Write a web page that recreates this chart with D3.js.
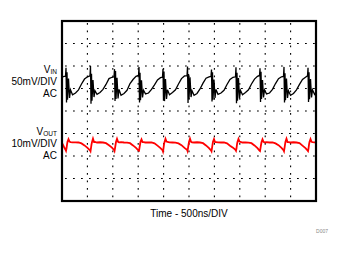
<!DOCTYPE html>
<html>
<head>
<meta charset="utf-8">
<script src="https://cdn.jsdelivr.net/npm/d3@7"></script>
<style>
  body { margin: 0; background: #fff; }
  text { font-family: "Liberation Sans", Arial, sans-serif; }
</style>
</head>
<body>
<svg width="345" height="254"></svg>
<script>
// scope capture, values
const timeNs = [
  0, 40,
  69, 79, 89, 99, 108, 128, 148, 167, 207, 266, 325, 384, 443, 502,
  551, 561, 571, 581, 590, 610, 630, 649, 689, 748, 807, 866, 925, 984,
  1024, 1034, 1044, 1054, 1063, 1083, 1103, 1122, 1162, 1221, 1280, 1339, 1398, 1457,
  1506, 1516, 1526, 1536, 1545, 1565, 1585, 1604, 1644, 1703, 1762, 1821, 1880, 1939,
  1978, 1988, 1998, 2008, 2017, 2037, 2057, 2076, 2116, 2175, 2234, 2293, 2352, 2411,
  2461, 2471, 2481, 2491, 2500, 2520, 2540, 2559, 2599, 2658, 2717, 2776, 2835, 2894,
  2933, 2943, 2953, 2963, 2972, 2992, 3012, 3031, 3071, 3130, 3189, 3248, 3307, 3366,
  3415, 3425, 3435, 3445, 3454, 3474, 3494, 3513, 3553, 3612, 3671, 3730, 3789, 3848,
  3888, 3898, 3908, 3918, 3927, 3947, 3967, 3986, 4026, 4085, 4144, 4203, 4262, 4321,
  4360, 4370, 4380, 4390, 4399, 4419, 4439, 4458, 4498, 4557, 4616, 4675, 4734, 4793,
  4833, 4843, 4853, 4863, 4872, 4892, 4912, 4931, 4971, 5000
];

// VIN, mV (50mV/DIV, AC)
const vinMv = [
  25, 27,
  27, 46, -31, 36, -25, 22, -21, -3, -14, -10, -3, 10, 21, 26,
  28, 50, -34, 33, -27, 19, -19, -5, -13, -9, -2, 9, 22, 25,
  26, 43, -28, 39, -23, 24, -22, -2, -15, -11, -4, 11, 20, 27,
  29, 48, -31, 35, -26, 18, -20, -4, -12, -10, -2, 8, 19, 24,
  25, 44, -27, 38, -28, 21, -23, -3, -14, -9, -3, 10, 22, 28,
  28, 49, -32, 32, -24, 25, -19, -5, -15, -11, -1, 12, 23, 26,
  27, 42, -29, 36, -25, 20, -21, -2, -13, -10, -4, 9, 20, 25,
  26, 47, -33, 35, -27, 23, -22, -4, -14, -9, -3, 10, 21, 27,
  29, 45, -30, 37, -23, 19, -20, -3, -12, -10, -2, 11, 22, 26,
  27, 48, -31, 34, -26, 22, -21, -5, -15, -11, -3, 9, 20, 25,
  28, 46, -30, 36, -24, 21, -20, -3, -13, -8
];

// VOUT, mV (10mV/DIV, AC)
const voutMv = [
  0.8, -1.0,
  -2.2, -2.7, -1.6, 0.1, 1.3, 2.5, 1.4, 1.2, 1.1, 1.1, 1.0, 0.6, -0.3, -1.4,
  -2.5, -2.9, -1.4, 0.2, 1.1, 2.7, 1.2, 1.3, 1.0, 1.1, 1.0, 0.7, -0.2, -1.3,
  -2.3, -2.8, -1.5, 0.0, 1.2, 2.6, 1.3, 1.1, 1.2, 1.0, 0.9, 0.7, -0.3, -1.4,
  -2.6, -2.7, -1.3, 0.1, 1.3, 2.4, 1.2, 1.2, 1.0, 1.0, 1.0, 0.6, -0.4, -1.5,
  -2.4, -3.0, -1.6, 0.2, 1.1, 2.6, 1.4, 1.3, 1.1, 1.0, 0.9, 0.6, -0.2, -1.4,
  -2.2, -2.8, -1.4, 0.0, 1.2, 2.7, 1.3, 1.1, 1.0, 1.1, 1.0, 0.7, -0.3, -1.5,
  -2.5, -2.9, -1.5, 0.1, 1.3, 2.5, 1.2, 1.2, 1.1, 1.0, 1.0, 0.6, -0.4, -1.3,
  -2.3, -2.7, -1.6, 0.2, 1.2, 2.6, 1.4, 1.3, 1.0, 1.0, 0.9, 0.7, -0.3, -1.5,
  -2.6, -2.8, -1.4, 0.0, 1.1, 2.4, 1.3, 1.1, 1.2, 1.0, 1.0, 0.6, -0.2, -1.4,
  -2.4, -2.9, -1.5, 0.1, 1.3, 2.7, 1.2, 1.2, 1.0, 1.1, 1.0, 0.7, -0.4, -1.5,
  -2.5, -2.8, -1.6, 0.2, 1.2, 2.5, 1.3, 1.2, 1.1, 1.0
];

const xDivs = d3.range(11);   // 10 time divisions
const yDivs = d3.range(9);    // 8 vertical divisions

const svg = d3.select("svg");

// scope screen
const x0 = 62, x1 = 316, y0 = 21, y1 = 201;

const x = d3.scaleLinear().domain([0, 5000]).range([x0, x1]);
const xDiv = d3.scaleLinear().domain([0, 10]).range([x0, x1]);
const yDiv = d3.scaleLinear().domain([0, 8]).range([y0, y1]);
// each channel has its own offset and volts/div
const yVin = d3.scaleLinear().domain([-50, 50]).range([yDiv(4), yDiv(2)]);
const yVout = d3.scaleLinear().domain([-10, 10]).range([yDiv(6.5), yDiv(4.5)]);

// grid
svg.append("g")
  .selectAll("line")
  .data(xDivs.slice(1, -1))
  .join("line")
    .attr("x1", d => xDiv(d)).attr("x2", d => xDiv(d))
    .attr("y1", y0 + 2).attr("y2", y1)
    .attr("stroke", "#000")
    .attr("stroke-width", 1.1)
    .attr("stroke-dasharray", "1.8,5.7");

svg.append("g")
  .selectAll("line")
  .data(yDivs.slice(1, -1))
  .join("line")
    .attr("x1", x0 + 3).attr("x2", x1)
    .attr("y1", d => yDiv(d)).attr("y2", d => yDiv(d))
    .attr("stroke", "#000")
    .attr("stroke-width", 1.1)
    .attr("stroke-dasharray", "1.8,6.2");

// traces
const pts = timeNs.map((t, i) => ({t: t, vin: vinMv[i], vout: voutMv[i]}));

svg.append("path")
  .datum(pts)
  .attr("fill", "none")
  .attr("stroke", "#000")
  .attr("stroke-width", 1.3)
  .attr("d", d3.line().x(d => x(d.t)).y(d => yVin(d.vin)));

svg.append("path")
  .datum(pts)
  .attr("fill", "none")
  .attr("stroke", "#f00")
  .attr("stroke-width", 1.8)
  .attr("d", d3.line().x(d => x(d.t)).y(d => yVout(d.vout)));

// frame
svg.append("rect")
  .attr("x", x0).attr("y", y0)
  .attr("width", x1 - x0).attr("height", y1 - y0)
  .attr("fill", "none")
  .attr("stroke", "#000")
  .attr("stroke-width", 2.2);

// channel labels
function chLabel(yb, sub, scale) {
  const g = svg.append("g").attr("text-anchor", "end").style("font-size", "10px");
  const t = g.append("text").attr("x", 57).attr("y", yb);
  t.append("tspan").text("V");
  t.append("tspan").text(sub).style("font-size", "6.5px").attr("dy", 1);
  g.append("text").attr("x", 57).attr("y", yb + 12).text(scale);
  g.append("text").attr("x", 57).attr("y", yb + 24).text("AC");
}
chLabel(73, "IN", "50mV/DIV");
chLabel(135, "OUT", "10mV/DIV");

svg.append("text")
  .attr("x", (x0 + x1) / 2)
  .attr("y", 217)
  .attr("text-anchor", "middle")
  .style("font-size", "10px")
  .text("Time - 500ns/DIV");

svg.append("text")
  .attr("x", 328)
  .attr("y", 233)
  .attr("text-anchor", "end")
  .style("font-size", "5px")
  .attr("fill", "#888")
  .text("D007");
</script>
</body>
</html>
